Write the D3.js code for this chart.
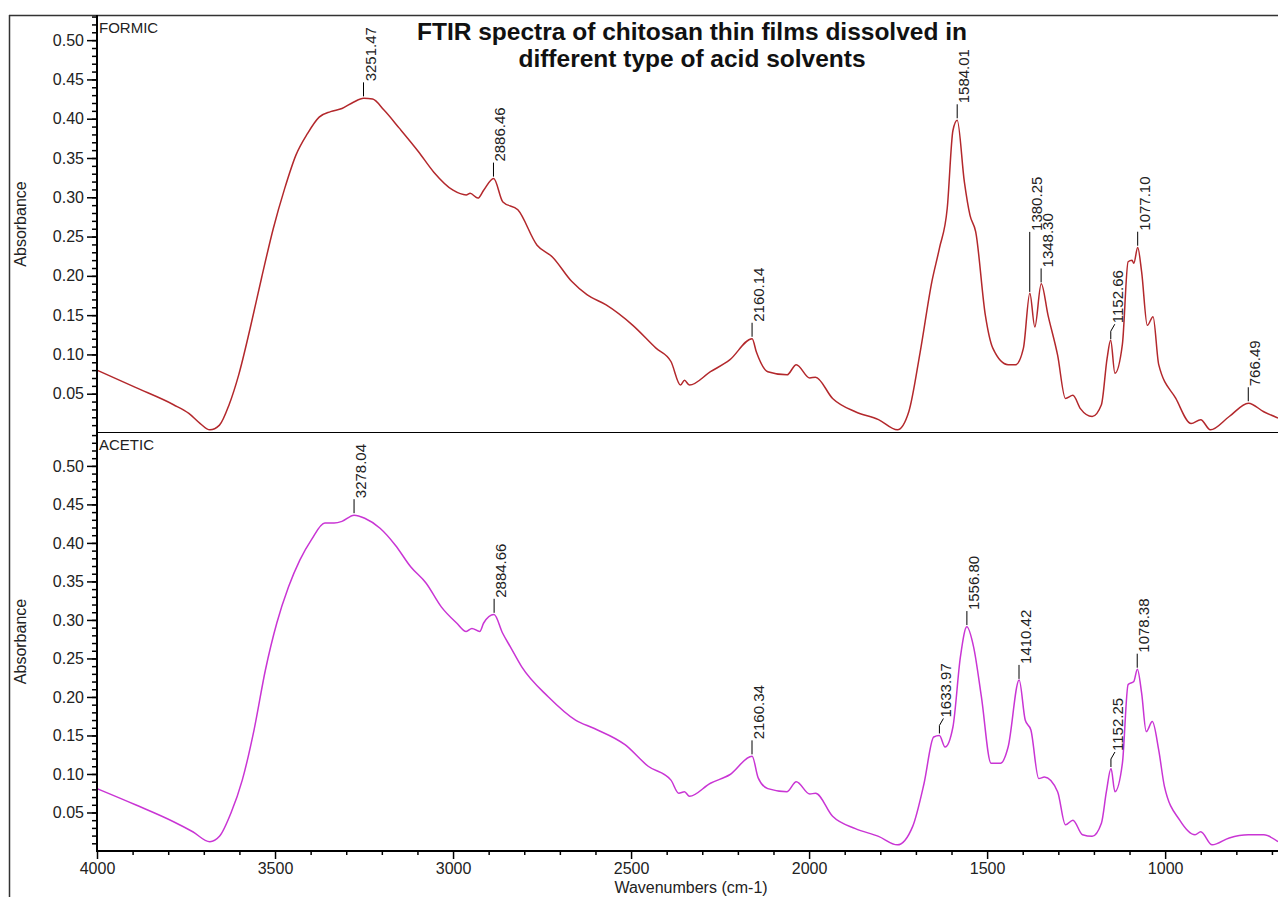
<!DOCTYPE html>
<html>
<head>
<meta charset="utf-8">
<script src="https://cdn.jsdelivr.net/npm/d3@7"></script>
<style>
  body { margin: 0; background: #fff; }
  svg { display: block; font-family: Arial, "Liberation Sans", sans-serif; }
</style>
</head>
<body>
<svg id="chart" width="1278" height="897"></svg>
<script>
// values (wavenumber in cm-1, absorbance)
const formicWavenumbers = [4000, 3892, 3785, 3742, 3710, 3683, 3656, 3629, 3602, 3570, 3538, 3505, 3473, 3441, 3409, 3376, 3344, 3312, 3280, 3251, 3226, 3194, 3151, 3097, 3054, 3000, 2963, 2952, 2930, 2914, 2886, 2860, 2818, 2764, 2721, 2667, 2624, 2570, 2495, 2430, 2388, 2361, 2350, 2336, 2277, 2223, 2160, 2148, 2116, 2062, 2036, 1998, 1982, 1934, 1870, 1805, 1752, 1720, 1688, 1655, 1634, 1612, 1596, 1584, 1564, 1548, 1532, 1505, 1484, 1441, 1420, 1398, 1380, 1366, 1348, 1329, 1302, 1280, 1259, 1238, 1205, 1179, 1163, 1153, 1141, 1120, 1104, 1093, 1088, 1077, 1066, 1050, 1034, 1018, 970, 927, 900, 873, 820, 766, 723, 683];
const formicAbsorbance = [0.080, 0.058, 0.036, 0.025, 0.012, 0.004, 0.010, 0.036, 0.074, 0.133, 0.197, 0.260, 0.311, 0.354, 0.381, 0.402, 0.409, 0.413, 0.421, 0.426, 0.425, 0.411, 0.388, 0.358, 0.332, 0.309, 0.303, 0.305, 0.299, 0.309, 0.324, 0.294, 0.284, 0.239, 0.224, 0.193, 0.176, 0.163, 0.137, 0.108, 0.091, 0.061, 0.067, 0.061, 0.078, 0.093, 0.120, 0.103, 0.078, 0.074, 0.087, 0.070, 0.071, 0.044, 0.027, 0.017, 0.004, 0.027, 0.103, 0.193, 0.235, 0.286, 0.385, 0.398, 0.320, 0.277, 0.256, 0.150, 0.108, 0.087, 0.087, 0.108, 0.178, 0.135, 0.190, 0.150, 0.099, 0.044, 0.048, 0.031, 0.021, 0.036, 0.095, 0.118, 0.076, 0.113, 0.218, 0.220, 0.216, 0.236, 0.205, 0.137, 0.148, 0.087, 0.044, 0.012, 0.017, 0.004, 0.021, 0.038, 0.027, 0.019];

const aceticWavenumbers = [4000, 3892, 3785, 3731, 3683, 3656, 3624, 3592, 3559, 3527, 3495, 3462, 3430, 3398, 3360, 3334, 3312, 3278, 3248, 3205, 3162, 3119, 3076, 3033, 2990, 2963, 2947, 2925, 2914, 2885, 2861, 2839, 2807, 2732, 2656, 2603, 2517, 2452, 2388, 2366, 2350, 2336, 2277, 2223, 2160, 2143, 2116, 2062, 2036, 1998, 1982, 1934, 1870, 1805, 1752, 1709, 1677, 1650, 1634, 1618, 1596, 1575, 1557, 1538, 1516, 1489, 1462, 1441, 1410, 1393, 1377, 1355, 1339, 1302, 1280, 1259, 1232, 1205, 1179, 1165, 1152, 1141, 1120, 1104, 1088, 1078, 1066, 1053, 1036, 1018, 1002, 959, 916, 900, 868, 820, 766, 723, 683];
const aceticAbsorbance = [0.081, 0.060, 0.038, 0.025, 0.012, 0.019, 0.049, 0.092, 0.157, 0.235, 0.296, 0.343, 0.378, 0.404, 0.426, 0.426, 0.428, 0.436, 0.432, 0.419, 0.397, 0.369, 0.348, 0.317, 0.296, 0.285, 0.289, 0.285, 0.296, 0.307, 0.283, 0.265, 0.239, 0.200, 0.170, 0.159, 0.138, 0.110, 0.092, 0.075, 0.077, 0.071, 0.088, 0.099, 0.123, 0.095, 0.081, 0.077, 0.090, 0.074, 0.075, 0.045, 0.029, 0.019, 0.008, 0.032, 0.088, 0.148, 0.150, 0.135, 0.161, 0.252, 0.291, 0.265, 0.200, 0.114, 0.114, 0.135, 0.222, 0.170, 0.157, 0.094, 0.096, 0.077, 0.034, 0.040, 0.021, 0.019, 0.036, 0.077, 0.107, 0.077, 0.114, 0.216, 0.220, 0.236, 0.205, 0.155, 0.168, 0.131, 0.084, 0.040, 0.021, 0.025, 0.008, 0.017, 0.021, 0.021, 0.012];

// labelled peak positions
const formicPeaks = [3251.47, 2886.46, 2160.14, 1584.01, 1380.25, 1348.30, 1152.66, 1077.10, 766.49];
const aceticPeaks = [3278.04, 2884.66, 2160.34, 1633.97, 1556.80, 1410.42, 1152.25, 1078.38];

// tick labels
const xTicks = [4000, 3500, 3000, 2500, 2000, 1500, 1000];
const yTicks = [0.05, 0.10, 0.15, 0.20, 0.25, 0.30, 0.35, 0.40, 0.45, 0.50];

const titleLines = ["FTIR spectra of chitosan thin films dissolved in", "different type of acid solvents"];

const svg = d3.select("#chart");
const W = 1278, H = 897;
const left = 97, right = 1278;

// leaders that need special handling so labels don't collide
const longLeaders = { "1380.25": 60 };
const bentLeaders = new Set(["1152.66", "1633.97", "1152.25"]);

const x = d3.scaleLinear().domain([4000, 683]).range([left, right]);

// outer frame
svg.append("line").attr("x1", 9).attr("x2", W).attr("y1", 15.5).attr("y2", 15.5)
    .attr("stroke", "#333").attr("stroke-width", 1.5);
svg.append("line").attr("x1", 9.5).attr("x2", 9.5).attr("y1", 15).attr("y2", H)
    .attr("stroke", "#333").attr("stroke-width", 1.5);

function drawPanel(top, bottom, yMax, wn, ab, color, name, peaks) {
    const y = d3.scaleLinear().domain([0, yMax]).range([bottom, top]);
    const g = svg.append("g");

    // y axis, major + minor
    const minor = d3.range(1, Math.floor(yMax * 100) + 1).map(d => d / 100);
    g.append("g")
        .attr("transform", `translate(${left},0)`)
        .call(d3.axisLeft(y).tickValues(minor).tickSize(5).tickFormat(""))
        .call(a => a.select(".domain").remove());
    const ya = g.append("g")
        .attr("transform", `translate(${left},0)`)
        .call(d3.axisLeft(y).tickValues(yTicks).tickSize(10).tickPadding(3).tickFormat(d3.format(".2f")))
        .call(a => a.select(".domain").remove());
    ya.selectAll("text").attr("font-size", 16).attr("fill", "#222").attr("font-family", "Arial, 'Liberation Sans', sans-serif");
    g.selectAll(".tick line").attr("stroke", "#000").attr("stroke-width", 1.5);

    // y axis title
    g.append("text")
        .attr("transform", `translate(26,${(top + bottom) / 2}) rotate(-90)`)
        .attr("text-anchor", "middle")
        .attr("font-size", 16)
        .attr("fill", "#222")
        .text("Absorbance");

    // panel name
    g.append("text")
        .attr("x", left + 2)
        .attr("y", top + 18)
        .attr("font-size", 15)
        .attr("fill", "#222")
        .text(name);

    // spectrum
    const pts = wn.map((w, i) => ({ x: w, y: ab[i] }));
    const line = d3.line()
        .x(d => x(d.x))
        .y(d => y(d.y))
        .curve(d3.curveMonotoneX);
    g.append("path")
        .datum(pts)
        .attr("fill", "none")
        .attr("stroke", color)
        .attr("stroke-width", 1.5)
        .attr("stroke-linejoin", "round")
        .attr("d", line);

    // peak markers
    const interp = d3.scaleLinear().domain(wn).range(ab);
    peaks.forEach(p => {
        const label = p.toFixed(2);
        const px = x(p);
        const py = y(interp(p)) - 2;
        const len = longLeaders[label] || 14;
        let tip = py - len;
        if (bentLeaders.has(label)) {
            tip = py - 8;
            g.append("line").attr("x1", px).attr("x2", px).attr("y1", py).attr("y2", tip)
                .attr("stroke", "#000").attr("stroke-width", 1);
            g.append("line").attr("x1", px).attr("x2", px + 4).attr("y1", tip).attr("y2", tip - 7)
                .attr("stroke", "#000").attr("stroke-width", 1);
            tip -= 7;
        } else {
            g.append("line").attr("x1", px).attr("x2", px).attr("y1", py).attr("y2", tip)
                .attr("stroke", "#000").attr("stroke-width", 1);
        }
        g.append("text")
            .attr("transform", `translate(${px + 12},${tip - 1}) rotate(-90)`)
            .attr("font-size", 15)
            .attr("fill", "#222")
            .text(label);
    });
    return y;
}

drawPanel(15, 433, 0.532, formicWavenumbers, formicAbsorbance, "#b3282c", "FORMIC", formicPeaks);
drawPanel(432, 851, 0.544, aceticWavenumbers, aceticAbsorbance, "#c935d4", "ACETIC", aceticPeaks);

// y axis line and panel divider
svg.append("line").attr("x1", left).attr("x2", left).attr("y1", 15).attr("y2", 852)
    .attr("stroke", "#000").attr("stroke-width", 2);
svg.append("line").attr("x1", left).attr("x2", right).attr("y1", 432.5).attr("y2", 432.5)
    .attr("stroke", "#000").attr("stroke-width", 1.2);

// x axis
const minorX = d3.range(700, 4000, 100).filter(d => d % 500 !== 0);
svg.append("g")
    .attr("transform", "translate(0,851)")
    .call(d3.axisBottom(x).tickValues(minorX).tickSize(4).tickFormat(""))
    .call(a => a.select(".domain").remove())
    .selectAll("line").attr("stroke-width", 1.5);
const xa = svg.append("g")
    .attr("transform", "translate(0,851)")
    .call(d3.axisBottom(x).tickValues(xTicks).tickSize(8).tickPadding(4).tickFormat(d3.format("d")));
xa.select(".domain").attr("stroke-width", 2).attr("d", `M${left},0H${right}`);
xa.selectAll("line").attr("stroke-width", 1.5);
xa.selectAll("text").attr("font-size", 16).attr("fill", "#222").attr("font-family", "Arial, 'Liberation Sans', sans-serif");

svg.append("text")
    .attr("x", 691)
    .attr("y", 893)
    .attr("text-anchor", "middle")
    .attr("font-size", 16)
    .attr("fill", "#222")
    .text("Wavenumbers (cm-1)");

// title
svg.append("text")
    .attr("x", 692)
    .attr("y", 40)
    .attr("text-anchor", "middle")
    .attr("font-size", 24.5)
    .attr("font-weight", "bold")
    .attr("fill", "#111")
    .selectAll("tspan")
    .data(titleLines)
    .join("tspan")
    .attr("x", 692)
    .attr("dy", (d, i) => i === 0 ? 0 : 27)
    .text(d => d);
</script>
</body>
</html>
